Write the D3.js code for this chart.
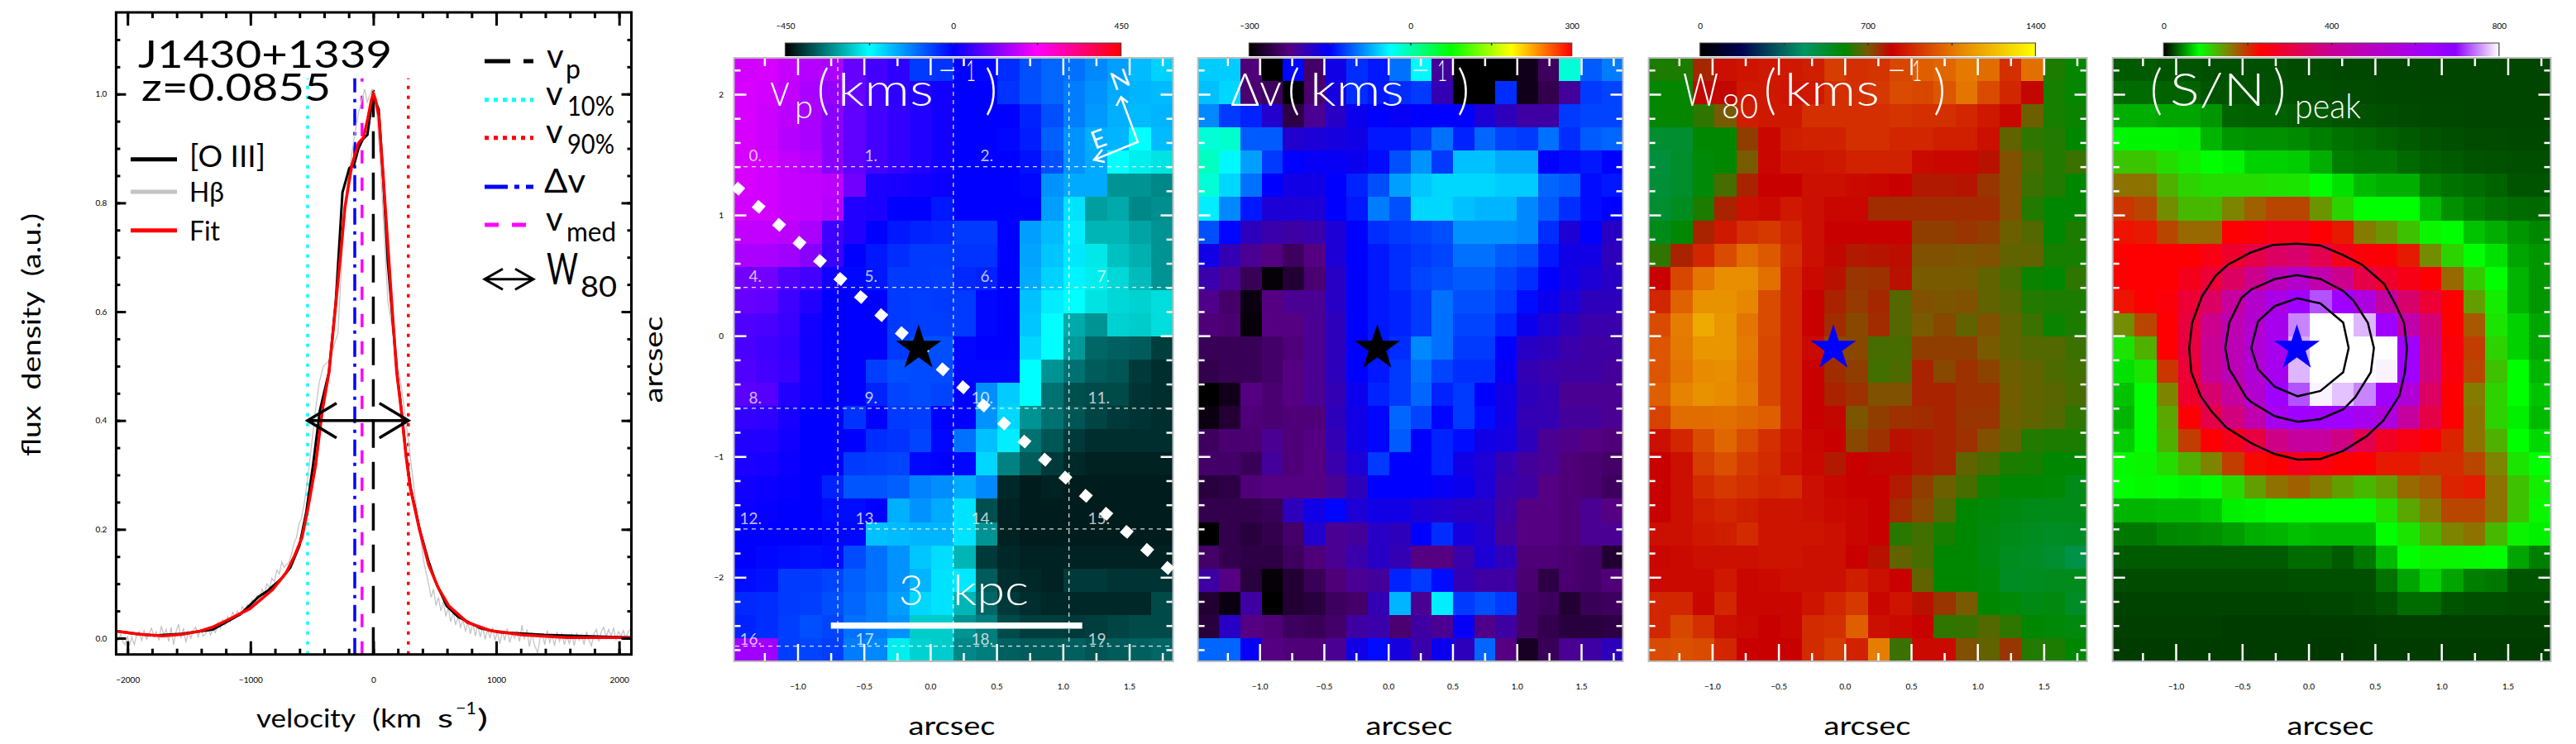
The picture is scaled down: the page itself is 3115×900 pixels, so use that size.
<!DOCTYPE html>
<html>
<head>
<meta charset="utf-8">
<script src="https://cdn.jsdelivr.net/npm/d3@7"></script>
<style>
body { margin: 0; background: #fff; }
text { font-family: Lato, "Open Sans", sans-serif; white-space: pre; }
</style>
</head>
<body>
<div id="chart"></div>
<script>
// line profile: [velocity, flux]
var fitPoints = [[-2093,.013],[-1900,.007],[-1710,.004],[-1550,.007],[-1410,.013],[-1300,.021],[-1190,.033],[-1005,.054],[-820,.089],[-710,.12],[-640,.152],[-580,.185],[-530,.241],[-470,.317],[-415,.418],[-360,.489],[-285,.661],[-230,.793],[-175,.869],[-120,.91],[-80,.92],[-45,.955],[-15,.99],[0,1],[15,.992],[45,.96],[80,.85],[120,.717],[155,.6],[190,.489],[228,.418],[265,.337],[300,.277],[375,.2],[450,.135],[525,.094],[615,.059],[765,.029],[950,.014],[1210,.006],[1575,.001],[2100,.001]];
var oiiiPoints = [[-2093,.013],[-1930,.008],[-1783,.005],[-1561,.008],[-1303,.016],[-1081,.044],[-989,.064],[-934,.076],[-860,.087],[-749,.109],[-675,.13],[-601,.17],[-546,.231],[-491,.317],[-435,.418],[-361,.489],[-306,.616],[-251,.819],[-195,.864],[-158,.869],[-121,.9],[-85,.917],[-48,.925],[-3,1],[44,.971],[81,.844],[118,.692],[155,.591],[192,.489],[229,.418],[266,.337],[303,.277],[377,.2],[451,.14],[506,.104],[598,.059],[691,.039],[875,.018],[1023,.011],[1392,.006],[2100,.001]];
var hbPoints = [[-2093,0],[-2075,-.005],[-2055,.008],[-2040,-.006],[-2020,-.012],[-2000,.004],[-1985,-.014],[-1965,.002],[-1945,-.012],[-1925,.006],[-1905,.012],[-1885,-.004],[-1865,.014],[-1845,-.002],[-1825,.008],[-1805,.018],[-1785,.004],[-1765,.012],[-1745,-.004],[-1725,.022],[-1705,.006],[-1685,.016],[-1665,-.006],[-1645,.02],[-1625,-.012],[-1605,.012],[-1585,.026],[-1565,0],[-1545,.018],[-1525,-.008],[-1505,.012],[-1485,0],[-1465,.014],[-1445,.02],[-1425,.002],[-1405,.016],[-1385,.004],[-1365,.008],[-1345,.018],[-1325,.006],[-1305,.016],[-1285,.01],[-1265,.028],[-1245,.018],[-1225,.034],[-1205,.024],[-1185,.04],[-1165,.03],[-1145,.048],[-1125,.038],[-1105,.05],[-1085,.042],[-1065,.058],[-1045,.05],[-1025,.062],[-1005,.056],[-985,.07],[-965,.062],[-945,.078],[-925,.07],[-905,.09],[-885,.082],[-865,.1],[-845,.092],[-825,.11],[-805,.104],[-785,.125],[-765,.118],[-745,.14],[-725,.13],[-705,.135],[-685,.14],[-665,.155],[-645,.175],[-625,.185],[-605,.21],[-585,.22],[-560,.25],[-530,.3],[-500,.36],[-470,.42],[-440,.47],[-405,.5],[-360,.51],[-288,.56],[-250,.72],[-215,.83],[-158,.915],[-121,.966],[-70,1.009],[-50,.985],[-10,1.009],[16,1],[40,.93],[60,.86],[118,.62],[160,.56],[229,.46],[285,.363],[340,.26],[411,.14],[430,.12],[450,.1],[470,.075],[490,.09],[510,.06],[530,.075],[550,.05],[570,.068],[590,.04],[610,.056],[630,.03],[650,.048],[670,.024],[690,.04],[710,.02],[730,.034],[750,.012],[770,.03],[790,.008],[810,.028],[830,.004],[850,.024],[870,.002],[890,.02],[910,-.002],[930,.016],[950,0],[970,.02],[990,-.004],[1010,.012],[1030,-.01],[1050,.014],[1070,-.004],[1090,.018],[1110,-.008],[1130,.008],[1150,0],[1170,.012],[1190,-.006],[1210,.024],[1230,-.002],[1250,.016],[1270,-.016],[1290,.01],[1310,-.012],[1337,-.027],[1355,-.002],[1375,.008],[1395,-.012],[1415,.014],[1435,-.008],[1455,.006],[1475,-.014],[1495,.012],[1515,-.006],[1535,.008],[1555,-.012],[1575,.004],[1595,-.01],[1615,.008],[1635,-.014],[1655,.01],[1675,-.004],[1695,.006],[1715,-.012],[1735,.012],[1755,-.004],[1775,-.014],[1795,.008],[1815,.016],[1835,-.006],[1855,.012],[1875,.02],[1895,.002],[1915,.016],[1935,.004],[1955,.018],[1975,-.002],[1995,.012],[2015,.004],[2035,.014],[2055,-.002],[2075,.012],[2100,.018]];

var velocityMarks = [
  {name: "v10", v: -535, color: "#00ffff", dash: "4,8"},
  {name: "v90", v: 285, color: "#ff0000", dash: "4,8"},
  {name: "dv", v: -151, color: "#0000ff", dash: "20,8,4,8"},
  {name: "vmed", v: -92, color: "#ff00ff", dash: "16,17"},
  {name: "vp", v: 0, color: "#000000", dash: "33,17"}
];
var specXTicks = [-2000, -1000, 0, 1000, 2000];
var specXMinor = [-2000,-1800,-1600,-1400,-1200,-1000,-800,-600,-400,-200,0,200,400,600,800,1000,1200,1400,1600,1800,2000];
var specYTicks = [0, .2, .4, .6, .8, 1];
var specYMinor = [0,.05,.1,.15,.2,.25,.3,.35,.4,.45,.5,.55,.6,.65,.7,.75,.8,.85,.9,.95,1,1.05,1.1];

// maps, 26 rows by 20 spaxels, top row first
var vpRows = [
  [185,190,175,160,150,90,60,40,-50,-45,0,-5,-40,-70,-90,-100,-120,-140,-165,-185],
  [190,185,170,150,130,90,60,40,30,15,0,0,-45,-70,-90,-110,-130,-150,-160,-165],
  [190,180,165,150,120,85,60,45,30,15,0,0,0,-30,-70,-110,-135,-155,-165,-160],
  [190,180,160,150,120,85,60,45,30,15,0,0,-5,-25,-85,-130,-155,-160,-225,-165],
  [190,185,170,160,120,85,60,45,30,15,0,0,0,-15,-70,-130,-150,-225,-240,-250],
  [190,185,175,170,165,100,25,20,15,10,0,0,0,-5,-130,-150,-150,-320,-320,-330],
  [185,185,175,170,160,30,25,0,0,-20,0,0,0,0,-140,-200,-310,-300,-330,-325],
  [170,170,165,150,55,30,0,-20,-30,-35,-50,-50,0,-140,-165,-210,-290,-290,-305,-320],
  [150,150,140,120,50,0,-20,-40,-50,-50,-45,-45,0,-145,-175,-205,-245,-280,-295,-320],
  [100,100,70,60,15,-5,-20,-50,-50,-55,-35,-30,0,-150,-185,-215,-240,-260,-285,-320],
  [90,85,55,30,0,0,0,-50,-55,-50,-50,-5,0,-170,-210,-225,-250,-260,-265,-255],
  [70,65,50,15,0,0,0,-50,-55,-55,-50,-5,0,-175,-225,-300,-320,-265,-270,-255],
  [65,55,45,15,0,0,0,-50,-70,-70,-5,0,0,-190,-225,-315,-360,-365,-370,-395],
  [70,60,50,15,0,0,-55,-70,-65,-65,-5,-5,-5,-225,-320,-350,-370,-375,-400,-410],
  [80,75,30,15,0,0,-30,-60,-65,-60,0,-125,-180,-225,-350,-380,-385,-385,-405,-410],
  [45,40,20,0,0,-45,0,-50,-55,0,0,-130,-190,-320,-350,-375,-390,-400,-405,-410],
  [30,30,15,0,0,0,-40,-45,-60,-5,-100,-170,-210,-350,-375,-400,-410,-410,-410,-410],
  [25,20,10,0,0,-50,-55,-60,-5,0,-5,-190,-335,-370,-400,-415,-420,-420,-420,-420],
  [15,10,5,0,-30,-75,-75,-85,-115,-125,-150,-120,-415,-425,-420,-425,-425,-425,-425,-425],
  [10,5,0,0,-10,-10,0,-155,-130,-150,-200,-380,-420,-425,-425,-425,-425,-425,-425,-425],
  [0,0,0,0,-5,-5,-170,-165,-160,-160,-200,-320,-420,-425,-425,-425,-425,-425,-425,-425],
  [0,-5,-10,-15,-10,-65,-100,-130,-175,-195,-290,-400,-415,-420,-420,-420,-420,-420,-420,-420],
  [-10,-15,-50,-50,-60,-85,-100,-130,-160,-200,-205,-370,-410,-415,-420,-400,-400,-405,-405,-405],
  [-35,-40,-50,-55,-70,-90,-110,-140,-190,-200,-290,-360,-400,-410,-415,-415,-415,-415,-415,-385],
  [-30,-40,-55,-70,-60,-100,-110,-130,-270,-270,-320,-340,-385,-395,-395,-400,-395,-390,-385,-385],
  [140,140,-55,-60,-55,-110,-120,-240,-265,-270,-330,-340,-365,-370,-370,-365,-375,-370,-365,-360]
];
var dvRows = [
  [-60,-60,-230,-300,-148,-240,-165,-130,-140,-100,-40,-210,-300,-300,-300,-285,-245,-20,-110,-95],
  [-65,-55,-235,-245,-300,-235,-170,-130,-140,-130,-125,-195,-300,-300,-130,-285,-255,-210,-125,-120],
  [-90,-125,-135,-180,-260,-215,-185,-160,-150,-155,-150,-150,-150,-175,-190,-205,-205,-125,-120,-120],
  [-20,-15,-110,-110,-180,-175,-170,-165,-140,-140,-125,-100,-135,-105,-120,-125,-100,-130,-110,-105],
  [-10,-40,-80,-125,-150,-155,-155,-160,-145,-115,-85,-125,-65,-65,-75,-75,-150,-145,-140,-150],
  [-20,-55,-100,-150,-165,-165,-150,-135,-115,-80,-62,-55,-55,-55,-60,-60,-105,-110,-145,-140],
  [-45,-90,-140,-175,-175,-175,-150,-140,-95,-115,-55,-55,-65,-70,-70,-90,-110,-130,-145,-150],
  [-115,-148,-190,-200,-205,-200,-175,-150,-130,-125,-120,-115,-85,-85,-85,-90,-130,-175,-150,-185],
  [-165,-195,-215,-225,-245,-225,-175,-150,-140,-130,-125,-120,-100,-100,-110,-115,-140,-165,-165,-190],
  [-200,-215,-250,-295,-270,-235,-185,-150,-140,-130,-120,-115,-110,-110,-120,-130,-150,-165,-175,-185],
  [-220,-240,-290,-225,-215,-215,-185,-150,-140,-135,-125,-100,-115,-115,-125,-145,-160,-175,-190,-190],
  [-230,-235,-295,-225,-225,-215,-190,-150,-140,-135,-125,-100,-120,-120,-135,-160,-175,-190,-200,-200],
  [-250,-250,-250,-240,-230,-215,-190,-150,-140,-130,-90,-100,-125,-125,-150,-185,-190,-200,-205,-205],
  [-255,-250,-250,-240,-225,-215,-190,-150,-140,-125,-100,-120,-130,-130,-155,-195,-200,-205,-205,-210],
  [-300,-285,-225,-235,-225,-215,-195,-160,-135,-125,-105,-135,-125,-150,-165,-190,-195,-215,-215,-215],
  [-290,-270,-230,-235,-230,-230,-190,-165,-148,-105,-120,-148,-125,-145,-165,-195,-195,-210,-210,-215],
  [-245,-235,-235,-215,-230,-225,-195,-165,-148,-110,-150,-135,-145,-165,-170,-190,-215,-220,-225,-230],
  [-240,-240,-250,-210,-230,-225,-200,-175,-125,-150,-150,-135,-165,-175,-195,-210,-215,-230,-235,-240],
  [-265,-260,-230,-225,-225,-225,-215,-190,-150,-150,-150,-155,-160,-175,-200,-205,-225,-230,-235,-245],
  [-255,-255,-255,-250,-190,-165,-148,-175,-165,-165,-175,-180,-185,-185,-205,-225,-225,-230,-215,-225],
  [-300,-255,-265,-255,-240,-180,-215,-210,-185,-190,-150,-130,-170,-180,-210,-225,-225,-230,-215,-215],
  [-240,-255,-260,-260,-245,-230,-215,-200,-185,-195,-225,-225,-200,-175,-190,-230,-230,-235,-240,-270],
  [-205,-225,-265,-295,-270,-250,-230,-215,-210,-135,-125,-145,-195,-205,-205,-235,-260,-235,-240,-230],
  [-270,-290,-205,-300,-270,-265,-245,-240,-195,-70,-215,-45,-125,-115,-125,-240,-245,-270,-250,-245],
  [-265,-185,-225,-230,-245,-250,-240,-205,-200,-235,-205,-215,-155,-220,-205,-240,-255,-265,-265,-260],
  [-105,-105,-155,-225,-230,-230,-215,-165,-145,-170,-200,-160,-190,-105,-225,-280,-250,-215,-205,-190]
];
var w80Rows = [
  [625,625,755,830,840,850,850,860,930,900,910,950,1000,1020,1060,1030,900,1040,625,605],
  [605,605,790,790,850,850,840,850,900,900,920,960,950,980,1050,960,880,790,620,605],
  [605,605,640,700,860,850,850,900,900,900,900,910,900,900,880,850,810,690,620,610],
  [520,520,600,600,730,810,860,870,870,900,900,880,880,860,860,830,680,640,630,600],
  [500,530,590,600,700,810,840,840,850,870,870,870,820,810,810,780,710,660,630,650],
  [510,530,590,660,760,800,800,830,830,820,810,800,770,770,775,740,710,650,630,600],
  [520,550,625,760,830,820,850,830,810,810,750,750,750,750,750,750,710,630,600,600],
  [560,595,760,850,900,920,880,830,800,800,800,800,730,730,740,730,690,670,600,625],
  [640,760,880,960,1030,990,900,830,790,770,775,785,710,710,705,710,680,680,620,620],
  [798,950,1050,1110,1110,1040,880,820,780,740,745,780,700,700,700,680,660,610,600,640],
  [880,1010,1120,1120,1090,960,880,800,760,735,755,670,710,705,710,680,670,630,625,625],
  [960,1070,1180,1130,1050,960,880,800,750,720,750,670,700,720,680,710,680,650,610,625],
  [980,1060,1130,1130,1060,950,880,820,720,720,660,660,730,730,730,700,680,670,670,650],
  [980,1050,1100,1110,1050,950,880,800,750,730,655,665,760,720,745,725,690,680,665,655],
  [1000,1080,1120,1100,1060,950,880,800,760,745,710,710,760,760,745,745,695,680,675,660],
  [940,1030,1030,1040,1020,1000,880,800,790,705,730,745,750,760,740,740,690,680,670,640],
  [830,880,960,1020,960,900,850,810,800,720,745,780,770,760,745,710,680,630,625,625],
  [800,830,930,970,920,890,840,815,770,800,790,790,770,760,680,660,625,620,600,600],
  [800,830,890,920,900,880,890,830,810,800,800,770,730,690,660,615,600,600,595,560],
  [800,830,860,880,860,840,840,830,820,810,800,750,720,670,600,590,575,560,560,560],
  [830,830,850,860,890,840,840,840,830,810,800,635,655,620,600,580,560,550,540,545],
  [810,820,830,830,830,840,840,830,830,800,780,680,660,600,600,575,550,540,520,480],
  [820,820,820,850,810,820,830,830,830,860,830,800,680,600,600,590,545,550,555,555],
  [880,880,810,880,810,810,810,840,880,920,810,840,780,740,700,600,590,570,580,540],
  [880,950,900,830,820,800,810,890,900,1000,830,820,798,640,645,670,640,600,590,580],
  [960,970,960,880,800,798,800,890,930,870,1070,650,820,820,710,680,740,630,625,600]
];
var snRows = [
  [30,30,28,28,26,26,26,26,25,25,24,24,23,23,23,23,23,23,23,23],
  [36,36,33,33,28,28,27,27,26,26,25,25,24,24,23,23,23,23,23,23],
  [58,58,55,55,50,33,32,32,30,30,28,27,26,25,24,24,23,23,23,23],
  [82,82,82,80,60,50,48,48,46,42,38,36,33,30,28,26,25,25,24,24],
  [118,118,105,95,85,82,70,70,68,58,42,40,40,35,32,30,28,27,26,26],
  [165,165,130,110,105,105,105,102,100,85,75,62,58,58,42,38,36,33,28,28],
  [200,190,150,125,125,155,175,190,190,145,110,85,85,85,62,48,42,38,36,35],
  [220,215,190,170,170,235,240,255,255,235,215,160,145,120,90,85,65,58,50,45],
  [230,232,232,232,250,280,310,340,350,320,260,240,235,215,150,110,85,75,55,50],
  [232,232,232,260,290,340,390,480,520,450,390,310,280,255,232,170,115,85,60,50],
  [220,232,240,290,340,420,520,580,640,730,640,570,430,350,290,232,140,95,60,50],
  [150,190,232,300,390,460,530,600,750,800,800,770,640,450,360,230,180,100,70,55],
  [100,130,232,300,400,470,540,600,765,800,800,800,800,640,370,240,195,110,70,55],
  [75,100,200,290,400,470,540,600,770,800,800,800,795,640,370,245,190,120,85,60],
  [65,85,155,280,350,420,530,640,730,795,775,750,640,550,340,232,160,110,85,65],
  [60,85,135,232,310,370,450,600,640,640,640,600,560,420,310,232,165,110,80,62],
  [68,85,130,195,232,260,300,380,420,420,380,320,270,250,232,210,165,130,85,72],
  [88,90,105,130,155,195,225,232,260,250,232,232,215,215,205,205,190,155,100,85],
  [85,88,85,82,85,105,140,165,175,160,140,125,140,170,180,210,215,165,120,95],
  [60,60,62,62,66,80,82,85,85,85,85,85,105,135,160,190,190,165,120,90],
  [40,40,45,46,48,52,58,60,64,62,62,62,85,100,130,155,165,125,92,80],
  [30,30,30,30,30,30,30,30,36,36,30,40,62,85,92,90,88,85,55,42],
  [25,25,25,25,25,25,25,25,26,26,26,26,38,55,70,55,42,40,28,28],
  [22,22,22,22,22,22,22,22,22,23,23,25,28,36,36,28,26,26,25,25],
  [21,21,21,21,21,20,20,20,20,20,20,20,21,21,21,21,21,21,21,21],
  [20,20,20,20,20,20,20,20,20,19,19,20,20,20,20,20,20,20,20,20]
];

// S/N contours in arcsec, outer to inner: [x, y]
var contourOuter = [[-.087,.762],[-.265,.753],[-.432,.691],[-.608,.588],[-.7,.497],[-.803,.326],[-.876,.109],[-.899,-.101],[-.883,-.302],[-.814,-.496],[-.734,-.622],[-.62,-.759],[-.432,-.889],[-.254,-.98],[-.082,-1.026],[.089,-1.021],[.261,-.953],[.437,-.832],[.563,-.702],[.684,-.496],[.725,-.302],[.741,-.101],[.718,.109],[.661,.246],[.57,.428],[.403,.588],[.261,.668],[.089,.748]];
var contourMiddle = [[-.087,.502],[-.254,.47],[-.432,.383],[-.505,.314],[-.597,.109],[-.627,-.101],[-.597,-.279],[-.563,-.336],[-.471,-.508],[-.432,-.549],[-.254,-.667],[-.082,-.713],[.089,-.69],[.261,-.61],[.352,-.508],[.469,-.302],[.492,-.101],[.446,.109],[.338,.291],[.261,.371],[.089,.47]];
var contourInner = [[-.087,.31],[-.254,.246],[-.38,.12],[-.432,-.101],[-.38,-.279],[-.254,-.423],[-.082,-.501],[.089,-.457],[.261,-.302],[.302,-.101],[.261,.109],[.089,.268]];

var mapXTicks = [-1, -.5, 0, .5, 1, 1.5];
var mapXMinor = [-1.25, -.75, -.25, .25, .75, 1.25, 1.75];
var mapYTicks = [-2, -1, 0, 1, 2];
var mapYMinor = [-2.6,-2.4,-2.2,-1.8,-1.6,-1.4,-1.2,-.8,-.6,-.4,-.2,.2,.4,.6,.8,1.2,1.4,1.6,1.8,2.2];
var slitX = [-.697, .174, 1.046];
var slitY = [1.4, .4, -.6, -1.6, -2.57];
var paLine = [[-1.476, 1.245], [1.828, -1.96]];
var spaxelLabels = ["0.","1.","2.","","4.","5.","6.","7.","8.","9.","10.","11.","12.","13.","14.","15.","16.","17.","18.","19."];

var width = 3115,
    height = 900;

var panels = [
  {rows: vpRows, left: 887.5, right: 1418.5, xr: [964.5, 1365.5], labelX: 1151, star: "#000", starX: -.088,
   bar: [949.5, 1355.6], barTicks: [-450, 0, 450],
   stops: [-450, -225, 0, 225, 450], colors: ["#000000", "#00ffff", "#0000ff", "#ff00ff", "#ff0000"]},
  {rows: dvRows, left: 1448.6, right: 1962.5, xr: [1523.2, 1912], labelX: 1704, star: "#000", starX: -.085,
   bar: [1510.4, 1900.7], barTicks: [-300, 0, 300],
   stops: [-300, -225, -150, -37.5, 75, 187.5, 300], colors: ["#000000", "#550082", "#0000ff", "#00ffff", "#00ff00", "#ffff00", "#ff0000"]},
  {rows: w80Rows, left: 1993.6, right: 2523.6, xr: [2070.4, 2471.4], labelX: 2258, star: "#0000ff", starX: -.086,
   bar: [2055.7, 2461.4], barTicks: [0, 700, 1400],
   stops: [0, 168, 434, 602, 700, 798, 1078, 1400], colors: ["#000000", "#000050", "#009664", "#008700", "#785a00", "#c80000", "#e68200", "#ffff00"]},
  {rows: snRows, left: 2554.7, right: 3084.5, xr: [2631, 3032.5], labelX: 2818, star: "#0000ff", starX: -.088,
   bar: [2616.3, 3021.9], barTicks: [0, 400, 800],
   stops: [0, 85, 157, 230, 400, 640, 696, 800], colors: ["#000000", "#00ff00", "#808000", "#ff0000", "#c80096", "#a000ff", "#8c00ff", "#ffffff"]}
];

var svg = d3.select("#chart").append("svg")
    .attr("width", width)
    .attr("height", height)
    .style("display", "block");

function txt(x, y, str, size, opts) {
  opts = opts || {};
  var t = svg.append("text")
      .attr("x", x)
      .attr("y", y)
      .attr("font-size", size)
      .attr("fill", opts.fill || "#000")
      .attr("font-weight", opts.weight || 400)
      .attr("text-anchor", opts.anchor || "start")
      .text(str);
  if (opts.len) t.attr("textLength", opts.len).attr("lengthAdjust", "spacingAndGlyphs");
  if (opts.rotate !== undefined) {
    t.attr("x", 0).attr("y", 0)
     .attr("transform", "translate(" + x + "," + y + ") rotate(" + opts.rotate + ")");
  }
  return t;
}

function tickMarks(axisFn, scale, values, len, pos, color, sw) {
  svg.append("g")
      .attr("transform", "translate(" + pos[0] + "," + pos[1] + ")")
      .call(axisFn(scale).tickValues(values).tickSize(-len).tickFormat(""))
      .call(function(g) { g.select(".domain").remove(); })
      .selectAll("line")
      .attr("stroke", color)
      .attr("stroke-width", sw);
}

function tickLabels(axisFn, scale, values, pad, pos, fmt, size) {
  svg.append("g")
      .attr("transform", "translate(" + pos[0] + "," + pos[1] + ")")
      .attr("font-family", null)
      .attr("font-size", size)
      .call(axisFn(scale).tickValues(values).tickSize(0).tickPadding(pad).tickFormat(fmt))
      .call(function(g) { g.select(".domain").remove(); });
}

// ---- spectrum panel
var sx = d3.scaleLinear().domain([-2093, 2100]).range([140.4, 763.5]);
var sy = d3.scaleLinear().domain([-.03, 1.15]).range([791.7, 15]);
var sline = d3.line()
    .x(function(d) { return sx(d[0]); })
    .y(function(d) { return sy(d[1]); });

svg.selectAll(".vmark")
    .data(velocityMarks)
  .enter().append("line")
    .attr("class", "vmark")
    .attr("x1", function(d) { return sx(d.v); })
    .attr("x2", function(d) { return sx(d.v); })
    .attr("y1", sy(-.03))
    .attr("y2", sy(1.029))
    .attr("stroke", function(d) { return d.color; })
    .attr("stroke-width", 3.5)
    .attr("stroke-dasharray", function(d) { return d.dash; });

svg.append("path").attr("d", sline(hbPoints)).attr("fill", "none").attr("stroke", "#c4c4c4").attr("stroke-width", 1.3);
svg.append("path").attr("d", sline(oiiiPoints)).attr("fill", "none").attr("stroke", "#000").attr("stroke-width", 3);
svg.append("path").attr("d", sline(fitPoints)).attr("fill", "none").attr("stroke", "#ff0000").attr("stroke-width", 3.5);

function doubleArrow(x1, x2, y, hx, hy, sw) {
  var p = d3.path();
  p.moveTo(x1, y); p.lineTo(x2, y);
  p.moveTo(x1 + hx, y - hy); p.lineTo(x1, y); p.lineTo(x1 + hx, y + hy);
  p.moveTo(x2 - hx, y - hy); p.lineTo(x2, y); p.lineTo(x2 - hx, y + hy);
  svg.append("path").attr("d", p.toString()).attr("fill", "none").attr("stroke", "#000").attr("stroke-width", sw);
}
doubleArrow(sx(velocityMarks[0].v), sx(velocityMarks[1].v), sy(.4), 35, 21, 3.5);

svg.append("rect")
    .attr("x", sx.range()[0]).attr("y", sy.range()[1])
    .attr("width", sx.range()[1] - sx.range()[0]).attr("height", sy.range()[0] - sy.range()[1])
    .attr("fill", "none").attr("stroke", "#000").attr("stroke-width", 3);

tickMarks(d3.axisBottom, sx, specXMinor, 7, [0, 791.7], "#000", 3);
tickMarks(d3.axisBottom, sx, specXTicks, 16, [0, 791.7], "#000", 3);
tickMarks(d3.axisTop, sx, specXMinor, 7, [0, 15], "#000", 3);
tickMarks(d3.axisTop, sx, specXTicks, 16, [0, 15], "#000", 3);
tickMarks(d3.axisLeft, sy, specYMinor, 5, [140.4, 0], "#000", 3);
tickMarks(d3.axisLeft, sy, specYTicks, 12, [140.4, 0], "#000", 3);
tickMarks(d3.axisRight, sy, specYMinor, 5, [763.5, 0], "#000", 3);
tickMarks(d3.axisRight, sy, specYTicks, 12, [763.5, 0], "#000", 3);
tickLabels(d3.axisBottom, sx, specXTicks, 27, [0, 791.7], d3.format("d"), 31);
tickLabels(d3.axisLeft, sy, specYTicks, 11, [140.4, 0], d3.format(".1f"), 31);

txt(49, 405, "flux  density  (a.u.)", 30, {anchor: "middle", rotate: -90, len: 294});
txt(310, 880, "velocity", 30, {len: 120});
txt(450, 880, "(km", 30, {len: 60});
txt(529, 880, "s", 30, {len: 19});
txt(551, 864, "−1", 21, {len: 25});
txt(577, 880, ")", 30, {len: 13});

txt(167, 82, "J1430+1339", 46, {len: 307});
txt(171, 122, "z=0.0855", 46, {len: 229});

// left legend
var legendKeys = [{y: 192.7, c: "#000"}, {y: 232, c: "#c4c4c4"}, {y: 278.7, c: "#ff0000"}];
svg.selectAll(".lkey")
    .data(legendKeys)
  .enter().append("line")
    .attr("x1", 158).attr("x2", 214)
    .attr("y1", function(d) { return d.y; })
    .attr("y2", function(d) { return d.y; })
    .attr("stroke", function(d) { return d.c; })
    .attr("stroke-width", 5);
txt(229, 202, "[O III]", 36, {len: 92});
txt(229, 244, "Hβ", 32, {len: 42});
txt(229, 291, "Fit", 32, {len: 37});

// right legend
var rightKeys = [
  {y: 74, c: "#000", dash: "31,16,12,100"},
  {y: 120.7, c: "#00ffff", dash: "5,6"},
  {y: 166.7, c: "#ff0000", dash: "5,6"},
  {y: 226, c: "#0000ff", dash: "28,8,6,8,14,50"},
  {y: 272, c: "#ff00ff", dash: "17,16,17,50"}
];
svg.selectAll(".rkey")
    .data(rightKeys)
  .enter().append("line")
    .attr("x1", 586).attr("x2", 645)
    .attr("y1", function(d) { return d.y; })
    .attr("y2", function(d) { return d.y; })
    .attr("stroke", function(d) { return d.c; })
    .attr("stroke-width", 5)
    .attr("stroke-dasharray", function(d) { return d.dash; });
txt(661, 82, "v", 40);
txt(684, 95, "p", 32);
txt(660, 127, "v", 40);
txt(686, 140, "10%", 32, {len: 57});
txt(660, 173, "v", 40);
txt(686, 186, "90%", 32, {len: 57});
txt(658, 233, "Δv", 40, {len: 50});
txt(660, 279, "v", 40);
txt(685, 292, "med", 32, {len: 60});
doubleArrow(586, 645, 337.7, 22, 12.5, 3);
txt(661, 344, "W", 52, {len: 38});
txt(702, 359, "80", 34, {len: 44});

// ---- maps
var my = d3.scaleLinear().domain([2, -2]).range([114, 698.3]);
var rowScale = d3.scaleBand().domain(d3.range(26)).range([70, 800]);
var defs = svg.append("defs");

panels.forEach(function(p, pi) {
  var mx = d3.scaleLinear().domain([-1, 1.5]).range(p.xr);
  var colScale = d3.scaleBand().domain(d3.range(20)).range([p.left, p.right]);
  var color = d3.scaleLinear().domain(p.stops).range(p.colors).clamp(true);

  var cells = svg.append("g").attr("shape-rendering", "crispEdges");
  cells.selectAll("g")
      .data(p.rows)
    .enter().append("g")
      .attr("transform", function(d, i) { return "translate(0," + rowScale(i) + ")"; })
    .selectAll("rect")
      .data(function(d) { return d; })
    .enter().append("rect")
      .attr("x", function(d, i) { return colScale(i); })
      .attr("width", colScale.bandwidth() + .5)
      .attr("height", rowScale.bandwidth() + .5)
      .attr("fill", function(d) { return color(d); });

  svg.append("rect")
      .attr("x", p.left).attr("y", 70)
      .attr("width", p.right - p.left).attr("height", 730)
      .attr("fill", "none").attr("stroke", "#bdbdbd").attr("stroke-width", 2);

  tickMarks(d3.axisBottom, mx, mapXMinor, 9, [0, 799], "#fff", 2.5);
  tickMarks(d3.axisBottom, mx, mapXTicks, 20, [0, 799], "#fff", 2.5);
  tickMarks(d3.axisTop, mx, mapXMinor, 9, [0, 71], "#fff", 2.5);
  tickMarks(d3.axisTop, mx, mapXTicks, 20, [0, 71], "#fff", 2.5);
  tickMarks(d3.axisLeft, my, mapYMinor, 7, [p.left + 1, 0], "#fff", 2.5);
  tickMarks(d3.axisLeft, my, mapYTicks, 14, [p.left + 1, 0], "#fff", 2.5);
  tickMarks(d3.axisRight, my, mapYMinor, 7, [p.right - 1, 0], "#fff", 2.5);
  tickMarks(d3.axisRight, my, mapYTicks, 14, [p.right - 1, 0], "#fff", 2.5);

  tickLabels(d3.axisBottom, mx, mapXTicks, 27, [0, 800], d3.format(".1f"), 31);
  txt(p.labelX, 889, "arcsec", 30, {anchor: "middle", len: 105});

  // colour bar
  var bar = d3.scaleLinear().domain([p.stops[0], p.stops[p.stops.length - 1]]).range(p.bar);
  var grad = defs.append("linearGradient").attr("id", "bar" + pi);
  grad.selectAll("stop")
      .data(p.stops)
    .enter().append("stop")
      .attr("offset", function(d) { return (bar(d) - p.bar[0]) / (p.bar[1] - p.bar[0]); })
      .attr("stop-color", function(d) { return color(d); });
  svg.append("rect")
      .attr("x", p.bar[0]).attr("y", 52)
      .attr("width", p.bar[1] - p.bar[0]).attr("height", 16)
      .attr("fill", "url(#bar" + pi + ")");
  var bp = d3.path();
  bp.moveTo(p.bar[0], 68); bp.lineTo(p.bar[0], 52); bp.lineTo(p.bar[1], 52); bp.lineTo(p.bar[1], 68);
  svg.append("path").attr("d", bp.toString()).attr("fill", "none").attr("stroke", "#444").attr("stroke-width", 1.2);
  var d0 = p.stops[0], d1 = p.stops[p.stops.length - 1];
  tickMarks(d3.axisTop, bar, [d0 + (d1 - d0) / 4, d0 + (d1 - d0) / 2, d0 + 3 * (d1 - d0) / 4], 3, [0, 52], "#333", 1.5);
  tickLabels(d3.axisTop, bar, p.barTicks, 17, [0, 52], d3.format("d"), 33);

  p.mx = mx;
});

var p1 = panels[0].mx, p4 = panels[3].mx;

tickLabels(d3.axisLeft, my, mapYTicks, 13, [888, 0], d3.format("d"), 31);
txt(801, 435, "arcsec", 30, {anchor: "middle", rotate: -90, len: 105});

// slit grid on the first map
svg.selectAll(".slitv")
    .data(slitX)
  .enter().append("line")
    .attr("x1", function(d) { return p1(d); })
    .attr("x2", function(d) { return p1(d); })
    .attr("y1", 71)
    .attr("y2", my(slitY[4]))
    .attr("stroke", "#fff").attr("stroke-opacity", .85).attr("stroke-width", 1.3).attr("stroke-dasharray", "5,5");
svg.selectAll(".sliti")
    .data(slitY)
  .enter().append("line")
    .attr("x1", 889)
    .attr("x2", 1417)
    .attr("y1", function(d) { return my(d); })
    .attr("y2", function(d) { return my(d); })
    .attr("stroke", "#fff").attr("stroke-opacity", .85).attr("stroke-width", 1.3).attr("stroke-dasharray", "5,5");

var spaxelRight = [921, 1061, 1201, 1342];
var spaxelBase = [195, 341, 488, 634, 780];
spaxelLabels.forEach(function(s, i) {
  txt(spaxelRight[i % 4], spaxelBase[Math.floor(i / 4)], s, 19, {fill: "#fff", anchor: "end"}).attr("fill-opacity", .75);
});

svg.append("line")
    .attr("x1", p1(paLine[0][0])).attr("y1", my(paLine[0][1]))
    .attr("x2", p1(paLine[1][0])).attr("y2", my(paLine[1][1]))
    .attr("stroke", "#fff").attr("stroke-width", 12).attr("stroke-dasharray", "12,21");

// stars and contours
var contourLine = d3.line()
    .curve(d3.curveLinearClosed)
    .x(function(d) { return p4(d[0]); })
    .y(function(d) { return my(d[1]); });
svg.selectAll(".contour")
    .data([contourOuter, contourMiddle, contourInner])
  .enter().append("path")
    .attr("d", contourLine)
    .attr("fill", "none").attr("stroke", "#000").attr("stroke-width", 2.5);

var star = d3.symbol().type(d3.symbolStar).size(944);
panels.forEach(function(p) {
  svg.append("path")
      .attr("d", star())
      .attr("fill", p.star)
      .attr("transform", "translate(" + p.mx(p.starX) + "," + my(-.103) + ")");
});

// scale bar and compass
svg.append("rect").attr("x", 1004.7).attr("y", 753).attr("width", 304).attr("height", 7.5).attr("fill", "#fff");
txt(1087, 732, "3", 52, {fill: "#fff", weight: 300, len: 30});
txt(1152, 732, "kpc", 52, {fill: "#fff", weight: 300, len: 92});

var compass = d3.path();
compass.moveTo(1355.6, 117.3); compass.lineTo(1375.9, 171.7); compass.lineTo(1323, 193.3);
compass.moveTo(1350, 128); compass.lineTo(1355.6, 117.3); compass.lineTo(1364, 124);
compass.moveTo(1333, 181); compass.lineTo(1323, 193.3); compass.lineTo(1336, 196);
svg.append("path").attr("d", compass.toString()).attr("fill", "none").attr("stroke", "#fff").attr("stroke-width", 2.5);
txt(1358, 106, "N", 30, {fill: "#fff", anchor: "middle", rotate: -20});
txt(1332, 178, "E", 30, {fill: "#fff", anchor: "middle", rotate: -20});

// panel titles, pieces placed by hand
var tw = {fill: "#fff", weight: 300};
function titleUnits(paren, kms, minus, one, close) {
  txt(paren, 131, "(", 66, {fill: "#fff", weight: 300, len: 15});
  txt(kms[0], 128, "kms", 56, {fill: "#fff", weight: 300, len: kms[1]});
  txt(minus, 100, "−", 44, {fill: "#fff", weight: 300, len: 23});
  txt(one, 98, "1", 36, {fill: "#fff", weight: 300, len: 12});
  txt(close, 131, ")", 66, {fill: "#fff", weight: 300, len: 15});
}
txt(931, 128, "v", 56, {fill: "#fff", weight: 300, len: 24});
txt(961, 143, "p", 40, tw);
titleUnits(988, [1013, 116], 1134, 1168, 1191);
txt(1488, 128, "Δv", 56, {fill: "#fff", weight: 300, len: 62});
titleUnits(1557, [1584, 114], 1706, 1738, 1762);
txt(2035, 128, "W", 56, {fill: "#fff", weight: 300, len: 43});
txt(2082, 143, "80", 42, {fill: "#fff", weight: 300, len: 44});
titleUnits(2133, [2158, 115], 2282, 2312, 2338);
txt(2600, 131, "(", 66, {fill: "#fff", weight: 300, len: 15});
txt(2624, 128, "S/N", 56, {fill: "#fff", weight: 300, len: 115});
txt(2749, 131, ")", 66, {fill: "#fff", weight: 300, len: 15});
txt(2775, 143, "peak", 42, {fill: "#fff", weight: 300, len: 80});
</script>
</body>
</html>
